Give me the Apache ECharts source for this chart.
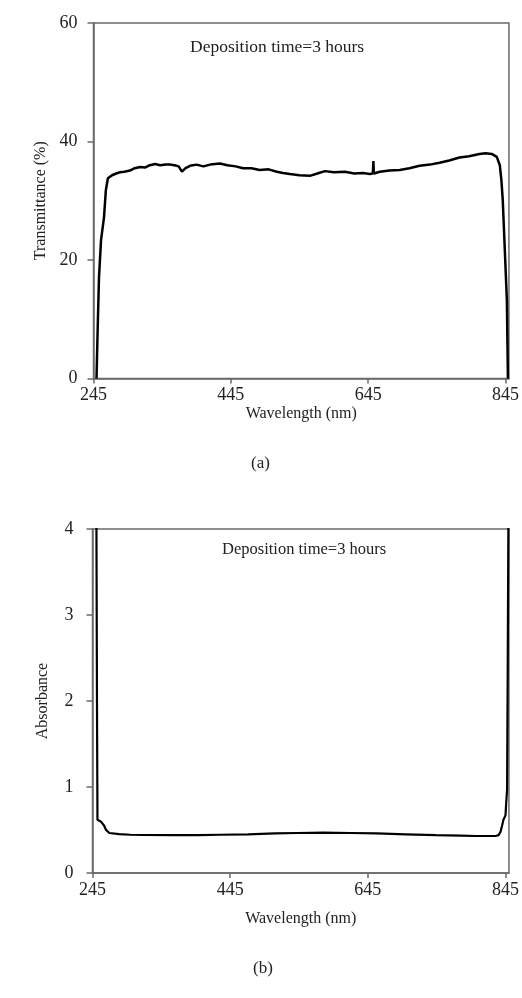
<!DOCTYPE html>
<html>
<head>
<meta charset="utf-8">
<script src="https://cdn.jsdelivr.net/npm/echarts@6/dist/echarts.min.js"></script>
<style>
html,body{margin:0;padding:0;background:#fff;}
#chart{width:522px;height:998px;}
</style>
</head>
<body>
<div id="chart"></div>
<script>
// Tick labels
const xTicks = [245, 445, 645, 845];
const transTicksMax = 60;
const absTicksMax = 4;

// (a) Transmittance (%) vs wavelength (nm)
const transWavelength = [249.4, 251, 253, 256, 260.3, 263, 266, 272, 278, 283.6, 290, 298, 305, 313, 320, 327, 335, 342, 350, 356, 363, 369, 373.8, 379, 385.5, 395, 405, 415, 429, 440, 452, 462.6, 475, 487, 500, 512, 521, 531, 545, 560, 571, 582, 595, 611, 625, 637, 647.5, 651.8, 652.6, 653.3, 662, 676, 691, 705, 720, 735, 749, 763, 778, 792, 807, 816, 825, 832.3, 836.7, 839, 841, 844, 846, 847, 848.5];
const transValues = [0, 8, 17.1, 23.4, 27.2, 31.8, 33.8, 34.3, 34.6, 34.8, 34.9, 35.1, 35.5, 35.7, 35.6, 36.0, 36.2, 36.0, 36.1, 36.1, 36.0, 35.8, 34.9, 35.5, 35.9, 36.1, 35.8, 36.1, 36.3, 36.0, 35.8, 35.5, 35.5, 35.2, 35.3, 34.9, 34.7, 34.5, 34.3, 34.2, 34.6, 35.0, 34.8, 34.9, 34.6, 34.7, 34.5, 34.6, 36.7, 34.6, 34.9, 35.1, 35.2, 35.5, 35.9, 36.1, 36.4, 36.8, 37.3, 37.5, 37.9, 38.0, 37.9, 37.4, 36.0, 33.5, 30.1, 21.7, 16, 13.2, 0];

// (b) Absorbance vs wavelength (nm)
const absWavelength = [250.5, 251.5, 252.2, 253.6, 257, 259.4, 262, 264.7, 269.5, 283.8, 300, 319.8, 360, 399, 430, 471, 510, 542.8, 580, 620, 658, 700, 744, 780, 801.8, 820, 830.6, 835, 837.8, 840, 842, 845, 846.3, 847.3, 848.3, 849.5];
const absValues = [4.6, 2.0, 0.62, 0.61, 0.60, 0.59, 0.55, 0.50, 0.465, 0.453, 0.445, 0.442, 0.44, 0.44, 0.445, 0.45, 0.46, 0.465, 0.47, 0.465, 0.46, 0.45, 0.44, 0.435, 0.43, 0.43, 0.43, 0.44, 0.48, 0.55, 0.62, 0.67, 0.85, 0.97, 2.5, 4.6];

const transData = transWavelength.map((w, i) => [w, transValues[i]]);
const absData = absWavelength.map((w, i) => [w, absValues[i]]);

const serif = '"Liberation Serif", "Times New Roman", serif';
const axisColor = '#6a6a6a';

function xAxisCfg(gridIndex, nameGap, labelMargin) {
  return {
    type: 'value', gridIndex: gridIndex, min: 245, max: 850,
    name: 'Wavelength (nm)', nameLocation: 'middle', nameGap: nameGap,
    nameTextStyle: { fontFamily: serif, fontSize: 16, color: '#222' },
    axisLine: { show: true, onZero: false, lineStyle: { color: axisColor, width: 1.5 } },
    axisTick: { show: true, inside: false, length: 5, customValues: xTicks, lineStyle: { color: axisColor, width: 1.5 } },
    axisLabel: { customValues: xTicks, margin: labelMargin, fontFamily: serif, fontSize: 18, color: '#222', hideOverlap: false },
    splitLine: { show: false }
  };
}
function yAxisCfg(gridIndex, max, interval, name, nameGap, labelMargin) {
  return {
    type: 'value', gridIndex: gridIndex, min: 0, max: max, interval: interval,
    name: name, nameLocation: 'middle', nameGap: nameGap,
    nameTextStyle: { fontFamily: serif, fontSize: 16, color: '#222' },
    axisLine: { show: true, lineStyle: { color: axisColor, width: 1.5 } },
    axisTick: { show: true, inside: false, length: 6, lineStyle: { color: axisColor, width: 1.5 } },
    axisLabel: { margin: labelMargin, fontFamily: serif, fontSize: 18, color: '#222' },
    splitLine: { show: false }
  };
}

const chart = echarts.init(document.getElementById('chart'), null, { renderer: 'canvas' });
chart.setOption({
  backgroundColor: '#fff',
  animation: false,
  grid: [
    { left: 93.5, right: 13, top: 23, height: 355.5, show: true, borderColor: axisColor, borderWidth: 1.5, backgroundColor: 'transparent' },
    { left: 92.5, right: 8.5, top: 529, height: 344, show: true, borderColor: axisColor, borderWidth: 1.5, backgroundColor: 'transparent' }
  ],
  xAxis: [xAxisCfg(0, 24, 8), xAxisCfg(1, 38, 8)],
  yAxis: [
    yAxisCfg(0, transTicksMax, 20, 'Transmittance (%)', 45, 16),
    yAxisCfg(1, absTicksMax, 1, 'Absorbance', 42, 19)
  ],
  series: [
    { type: 'line', xAxisIndex: 0, yAxisIndex: 0, data: transData, showSymbol: false, clip: true,
      lineStyle: { color: '#000', width: 2.5 } },
    { type: 'line', xAxisIndex: 1, yAxisIndex: 1, data: absData, showSymbol: false, clip: true,
      lineStyle: { color: '#000', width: 2.2 } }
  ],
  graphic: [
    { type: 'text', left: 190, top: 38, style: { text: 'Deposition time=3 hours', fontFamily: serif, fontSize: 17.5, fill: '#222' } },
    { type: 'text', left: 222, top: 541, style: { text: 'Deposition time=3 hours', fontFamily: serif, fontSize: 16.5, fill: '#222' } },
    { type: 'text', left: 251, top: 455, style: { text: '(a)', fontFamily: serif, fontSize: 17, fill: '#222' } },
    { type: 'text', left: 253, top: 960, style: { text: '(b)', fontFamily: serif, fontSize: 17, fill: '#222' } }
  ]
});
</script>
</body>
</html>
